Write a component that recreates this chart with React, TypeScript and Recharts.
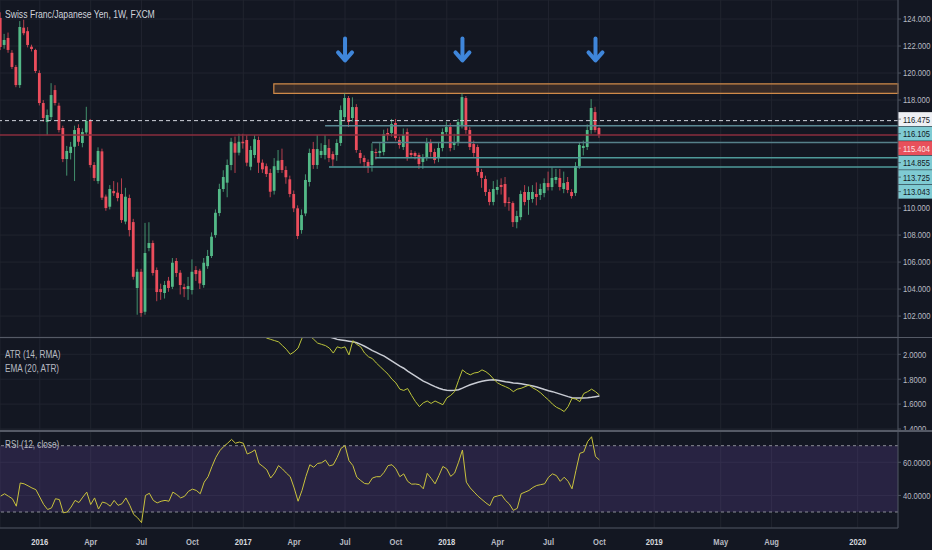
import {
  Bar,
  CartesianGrid,
  ComposedChart,
  Line,
  ReferenceArea,
  ReferenceDot,
  ReferenceLine,
  XAxis,
  YAxis,
} from 'recharts';

// weekly CHF/JPY candles, index 0 = first visible week (late Oct 2015)
const OPEN = [
  124.08, 122.08, 122.6, 121.5, 120.45, 119.11, 123.36, 123.1, 121.95, 121.71,
  120.0, 117.78, 116.37, 116.74, 118.74, 117.58, 115.93, 113.63, 114.08, 114.54,
  115.93, 114.82, 115.6, 116.45, 113.19, 112.0, 114.2, 110.85, 110.1, 111.26,
  111.14, 111.04, 109.0, 110.74, 108.96, 104.08, 105.28, 102.32, 107.04, 107.41,
  105.41, 104.0, 103.71, 104.62, 104.17, 106.08, 105.21, 104.15, 104.0, 103.93,
  105.41, 105.36, 104.3, 105.7, 106.45, 108.0, 109.63, 111.41, 111.88, 113.19,
  114.8, 114.1, 114.91, 115.04, 113.06, 113.93, 115.04, 113.36, 113.1, 112.6,
  111.28, 112.82, 113.56, 112.82, 112.13, 111.04, 109.98, 108.37, 109.6, 111.93,
  114.37, 113.19, 113.93, 113.93, 114.45, 114.0, 113.93, 114.82, 116.74, 118.15,
  116.67, 117.48, 114.08, 113.71, 113.41, 113.19, 114.15, 114.08, 114.15, 115.56,
  115.56, 116.3, 115.04, 114.52, 115.63, 114.08, 114.08, 113.93, 113.41, 113.78,
  114.89, 114.15, 113.71, 114.45, 115.63, 116.0, 114.67, 114.89, 116.15, 118.15,
  115.78, 114.74, 114.52, 112.67, 112.15, 111.19, 110.45, 111.34, 111.71, 111.78,
  110.45, 110.37, 108.96, 109.33, 111.19, 110.6, 110.67, 111.04, 110.97, 111.11,
  111.85, 111.56, 112.08, 112.23, 111.41, 111.93, 111.19, 111.11, 113.11, 114.45,
  114.52, 115.78, 117.11, 115.93,
];
const HIGH = [
  124.5, 122.9, 123.0, 121.7, 120.6, 123.85, 123.95, 123.4, 122.1, 121.8,
  120.2, 118.0, 117.3, 119.25, 119.1, 117.8, 116.1, 114.6, 114.9, 116.1,
  116.2, 115.9, 117.5, 116.6, 113.4, 114.5, 114.4, 111.0, 111.7, 112.0,
  111.9, 112.2, 111.5, 111.0, 109.2, 105.5, 105.5, 108.9, 108.95, 107.6,
  105.6, 104.4, 104.6, 104.9, 106.3, 106.3, 105.4, 104.4, 104.9, 106.2,
  105.7, 105.5, 106.3, 106.9, 108.2, 109.9, 111.8, 112.8, 113.6, 115.2,
  115.3, 115.5, 115.5, 115.4, 114.6, 115.4, 115.3, 113.6, 113.3, 112.9,
  113.7, 114.3, 114.4, 113.1, 112.4, 111.3, 110.2, 109.9, 112.5, 114.4,
  114.9, 115.4, 114.8, 115.4, 115.1, 114.2, 115.1, 117.6, 118.5, 118.3,
  118.2, 117.7, 114.3, 113.9, 113.6, 114.8, 114.4, 114.9, 115.8, 115.9,
  116.6, 116.6, 115.3, 115.9, 115.9, 114.3, 114.2, 114.1, 114.0, 115.2,
  115.1, 114.4, 114.9, 115.9, 116.4, 116.3, 115.5, 116.6, 118.5, 118.3,
  116.0, 115.0, 114.7, 112.9, 112.4, 111.4, 112.0, 112.1, 112.2, 112.3,
  110.8, 110.5, 109.8, 111.3, 111.7, 111.6, 111.7, 111.9, 111.8, 112.2,
  112.7, 113.0, 112.9, 112.9, 112.7, 112.3, 111.4, 113.4, 114.9, 115.0,
  116.2, 118.07, 117.5, 116.0,
];
const LOW = [
  121.7, 121.8, 121.5, 120.3, 118.95, 118.9, 122.8, 121.9, 121.6, 120.0,
  117.6, 116.4, 115.4, 116.5, 117.6, 115.6, 113.4, 112.4, 113.6, 112.0,
  114.6, 114.5, 115.4, 113.0, 112.0, 111.8, 110.6, 109.8, 109.9, 110.9,
  110.5, 108.9, 108.8, 107.9, 104.7, 102.1, 101.95, 102.1, 106.8, 105.0,
  103.1, 103.2, 103.3, 103.8, 104.0, 104.9, 103.6, 103.4, 103.2, 103.6,
  104.6, 104.0, 104.1, 105.5, 106.3, 107.8, 109.4, 111.2, 110.8, 112.8,
  112.6, 113.9, 114.4, 113.1, 112.8, 113.7, 112.6, 112.6, 112.3, 110.8,
  111.0, 112.6, 112.6, 111.8, 110.8, 109.7, 107.7, 108.1, 109.4, 111.6,
  112.9, 112.9, 113.7, 113.6, 113.4, 113.1, 113.5, 114.6, 116.5, 116.0,
  116.4, 114.1, 113.3, 113.0, 112.6, 112.7, 113.6, 113.8, 113.9, 115.0,
  115.3, 115.0, 114.4, 114.3, 113.5, 113.7, 113.6, 112.9, 112.9, 113.5,
  113.8, 113.3, 113.4, 114.2, 115.4, 114.2, 114.3, 114.6, 115.9, 115.5,
  114.3, 113.8, 112.4, 111.5, 110.9, 110.2, 110.2, 111.0, 111.0, 110.1,
  109.8, 108.6, 108.5, 109.1, 110.2, 109.5, 110.4, 110.2, 110.6, 110.8,
  111.3, 111.3, 111.8, 111.3, 111.1, 111.1, 110.7, 110.9, 112.9, 113.9,
  114.3, 115.5, 115.6, 115.2,
];
const CLOSE = [
  121.93, 122.45, 121.71, 120.45, 119.11, 123.41, 122.95, 122.08, 121.78, 120.15,
  117.78, 116.67, 116.89, 118.37, 117.78, 115.78, 113.63, 114.23, 114.54, 115.78,
  114.91, 115.63, 116.45, 113.19, 112.23, 114.23, 110.77, 110.0, 111.41, 111.1,
  110.74, 109.11, 110.84, 108.37, 104.91, 105.28, 102.23, 106.67, 107.41, 105.19,
  103.78, 103.78, 104.3, 104.08, 105.95, 105.19, 104.3, 104.0, 104.22, 105.28,
  105.11, 104.42, 105.95, 106.45, 107.88, 109.65, 111.41, 112.3, 113.19, 114.91,
  114.1, 114.91, 114.8, 113.36, 114.3, 115.1, 113.36, 112.87, 112.52, 111.21,
  113.1, 113.51, 112.82, 112.28, 111.04, 109.98, 107.93, 109.48, 112.08, 114.08,
  113.19, 114.37, 114.23, 114.67, 113.71, 113.6, 114.82, 117.26, 118.15, 116.37,
  117.48, 114.3, 113.71, 113.41, 113.04, 114.23, 114.08, 114.23, 115.48, 115.41,
  116.22, 115.19, 114.67, 115.41, 113.78, 113.93, 113.86, 113.26, 113.71, 114.89,
  114.15, 113.56, 114.45, 115.63, 116.0, 114.45, 114.89, 116.37, 118.22, 115.78,
  114.52, 114.08, 112.67, 112.23, 111.19, 110.45, 111.41, 111.56, 111.56, 110.37,
  110.37, 108.96, 109.41, 111.04, 110.45, 111.19, 111.19, 110.82, 111.41, 111.85,
  111.56, 112.23, 112.3, 111.56, 111.85, 111.34, 110.89, 113.11, 114.67, 114.6,
  115.78, 117.41, 115.78, 115.404,
];

const RSI = [
  39.6, 41, 39.5, 38, 33.5, 47.5, 47, 45.8, 44.5, 43.5,
  39, 34.5, 31.5, 32.5, 38, 37.5, 29.5, 30, 33, 37,
  35.7, 39, 42, 34.5, 38.5, 31.8, 36, 35.3, 33.5, 37,
  34, 35, 38.5, 34, 28.5, 26.5, 23.6, 40, 41.3, 37,
  35.5, 36.5, 37, 36.5, 42, 40.5, 38.5, 39.5, 42.5, 43.8,
  43, 41, 48, 51.3, 57.5, 63, 67, 69.5, 71.5, 73.8,
  71.5, 72.2, 71.5, 65, 66, 67.5, 59.3, 57.5, 55.5, 50.5,
  53.5, 58, 56, 53.5, 51.3, 44.5, 36.5, 43, 51.5, 58.5,
  57, 59.3, 59.7, 61.3, 57.8, 58.5, 63, 68.5, 70, 61,
  58, 51, 49, 47.2, 46.9, 50.5, 51.3, 51.3, 54, 58,
  58.5, 56, 51.3, 53, 48.5, 46.8, 46.9, 46.5, 44, 53.3,
  50.3, 47, 52, 57.5, 56, 51.5, 53.5, 60, 67.4, 48,
  44.5, 42, 39.5, 37.5, 35.5, 33.8, 39, 39.7, 40.3, 37,
  34.8, 31, 32.2, 41, 42, 43, 44.8, 46, 46.5, 47,
  51, 53, 52, 48.5, 51, 48.5, 44, 55, 65.4, 66.2,
  72.5, 75.4, 63.5, 61.4,
];

const ATR_START = 64;
const ATR = [
  2.3, 2.24, 2.19, 2.16, 2.13, 2.12, 2.11, 2.1, 2.07, 2.04,
  2.0, 2.02, 2.05, 2.13, 2.16, 2.15, 2.12, 2.09, 2.08, 2.07,
  2.05, 2.01, 2.06, 2.05, 2.06, 1.995, 2.11, 2.08, 2.06, 2.01,
  1.98, 1.965, 1.93, 1.9, 1.87, 1.84, 1.8, 1.77, 1.72, 1.71,
  1.725, 1.67, 1.62, 1.58, 1.61, 1.625, 1.605, 1.625, 1.61, 1.595,
  1.65, 1.67, 1.7, 1.79, 1.875, 1.85, 1.835, 1.85, 1.855, 1.875,
  1.86, 1.835, 1.8, 1.77, 1.753, 1.74, 1.725, 1.7, 1.72, 1.727,
  1.74, 1.753, 1.73, 1.713, 1.69, 1.66, 1.633, 1.6, 1.575, 1.56,
  1.54, 1.58, 1.647, 1.64, 1.62, 1.685, 1.7, 1.72, 1.7, 1.673,
];
const EMA_START = 82;
const EMA = [
  2.16, 2.15, 2.14, 2.13, 2.12, 2.115, 2.11, 2.105, 2.1, 2.093,
  2.08, 2.065, 2.048, 2.03, 2.015, 2.0, 1.985, 1.965, 1.945, 1.925,
  1.905, 1.888, 1.865, 1.845, 1.825, 1.805, 1.785, 1.77, 1.755, 1.74,
  1.727, 1.718, 1.712, 1.71, 1.711, 1.715, 1.728, 1.742, 1.755, 1.766,
  1.776, 1.784, 1.79, 1.794, 1.795, 1.792, 1.786, 1.78, 1.775, 1.77,
  1.767, 1.763, 1.758, 1.752, 1.745, 1.737, 1.727, 1.717, 1.708, 1.7,
  1.69, 1.68, 1.67, 1.66, 1.652, 1.65, 1.65, 1.65, 1.651, 1.655,
  1.66, 1.665,
];

// time axis: week index of the first bar of each labelled period
const X_TICKS = [10, 23, 36, 49, 62, 75, 88, 101, 114, 127, 140, 153, 167, 184, 197, 219];
const X_LABELS = ['2016', 'Apr', 'Jul', 'Oct', '2017', 'Apr', 'Jul', 'Oct', '2018', 'Apr', 'Jul', 'Oct', '2019', 'May', 'Aug', '2020'];

const PRICE_TICKS = [102, 104, 106, 108, 110, 118, 120, 122, 124];
const ATR_TICKS = [1.4, 1.6, 1.8, 2.0];
const RSI_TICKS = [40, 60];

// drawn levels (price, week where the line starts; null = full width)
const LEVELS = [116.475, 116.105, 115.404, 114.855, 113.725, 113.043];
const LEVEL_FROM = [null, 82.9, null, 94.9, 95.7, 83.9];
const RESIST_LOW = 118.5;
const RESIST_HIGH = 119.2;
const RESIST_FROM = 69.8;
const ARROW_WEEKS = [88, 118, 152];
const ARROW_PRICE = 121.75;

// layout
const W = 932;
const AXIS_W = 34;
const MAIN_H = 337;
const ATR_H = 92;
const RSI_H = 119;
const X_DOMAIN: [number, number] = [-0.17, 229.3];
const P_DOMAIN: [number, number] = [100.45, 125.41];
const A_DOMAIN: [number, number] = [1.392, 2.131];
const R_DOMAIN: [number, number] = [20.35, 78.87];

const BG = '#131722';
const GRID = '#20242f';
const AXIS = '#4c525e';
const TEXT = '#b8bbc3';
const UP = '#53b987';
const DOWN = '#eb4d5c';
const FONT = '"Liberation Sans", Arial, sans-serif';
const SQUEEZE = 0.8;

const LEVEL_STYLE = [
  { stroke: '#d1d4dc', dash: '4 3', width: 1, bg: '#eef0f4', fg: '#131722' },
  { stroke: '#5a8893', dash: undefined, width: 1.5, bg: '#7fcbd3', fg: '#131722' },
  { stroke: '#8a2e3e', dash: undefined, width: 1.5, bg: '#e8505b', fg: '#fbe3e6' },
  { stroke: '#56808a', dash: undefined, width: 1.5, bg: '#7fcbd3', fg: '#131722' },
  { stroke: '#4f9a9a', dash: undefined, width: 1.5, bg: '#7fcbd3', fg: '#131722' },
  { stroke: '#4f9a9a', dash: undefined, width: 1.5, bg: '#7fcbd3', fg: '#131722' },
];

const candles = OPEN.map((o, i) => ({ i, o, h: HIGH[i], l: LOW[i], c: CLOSE[i] }));
const rsiRows = RSI.map((rsi, i) => ({ i, rsi }));
const atrRows = ATR.map((atr, k) => {
  const i = ATR_START + k;
  const e = i - EMA_START;
  return { i, atr, ema: e >= 0 ? EMA[e] : null };
});

function Candle(props: any) {
  const { x, y, width, height, payload } = props;
  if (!payload || height == null || isNaN(y)) return null;
  const top = Math.min(y, y + height);
  const span = Math.abs(height);
  const ppu = span / (payload.h - payload.l || 1);
  const color = payload.c >= payload.o ? UP : DOWN;
  const cx = x + width / 2;
  const bTop = top + (payload.h - Math.max(payload.o, payload.c)) * ppu;
  const bH = Math.max(1, Math.abs(payload.o - payload.c) * ppu);
  return (
    <g>
      <line x1={cx} x2={cx} y1={top} y2={top + span} stroke={color} strokeOpacity={0.75} strokeWidth={1} />
      <rect x={cx - 1.4} y={bTop} width={2.8} height={bH} fill={color} />
    </g>
  );
}

function Arrow(props: any) {
  const { cx, cy } = props;
  return (
    <g stroke="#3f86da" strokeWidth={4} fill="none" strokeLinecap="round" strokeLinejoin="round">
      <line x1={cx} y1={cy - 11} x2={cx} y2={cy + 10} />
      <polyline points={`${cx - 7},${cy + 3} ${cx},${cy + 11} ${cx + 7},${cy + 3}`} />
    </g>
  );
}

// narrow text: the reference uses a condensed UI font
function Narrow({ x, y, children, ...rest }: any) {
  return (
    <g transform={`translate(${x},${y}) scale(${SQUEEZE},1)`}>
      <text x={0} y={0} fontFamily={FONT} {...rest}>{children}</text>
    </g>
  );
}

// price badges on the right scale, stacked like the platform does
function Badges(props: any) {
  const vb = props.viewBox;
  if (!vb) return null;
  const ppu = MAIN_H / (P_DOMAIN[1] - P_DOMAIN[0]);
  const right = vb.x + vb.width;
  let prev = -Infinity;
  return (
    <g>
      {LEVELS.map((v, k) => {
        const ly = vb.y + (LEVELS[0] - v) * ppu;
        const c = k === 0 ? ly - 1.5 : Math.max(ly, prev + 14.5);
        prev = c;
        const s = LEVEL_STYLE[k];
        return (
          <g key={v}>
            <rect x={right} y={c - 7} width={AXIS_W} height={14} fill={s.bg} />
            <line x1={right} x2={right + 3} y1={c} y2={c} stroke={s.fg} strokeOpacity={0.5} />
            <Narrow x={right + 5} y={c + 3.4} fontSize={9.5} fill={s.fg}>{v.toFixed(3)}</Narrow>
          </g>
        );
      })}
    </g>
  );
}

function YTick(props: any) {
  const { x, y, payload, digits } = props;
  return (
    <Narrow x={x} y={y + 3.3} fontSize={9.5} fill={TEXT}>{Number(payload.value).toFixed(digits)}</Narrow>
  );
}

function XTick(props: any) {
  const { x, y, payload } = props;
  const label = X_LABELS[X_TICKS.indexOf(payload.value)];
  const year = /^\d{4}$/.test(label || '');
  return (
    <Narrow x={x} y={y + 9} textAnchor="middle" fontSize={9.5} fontWeight={700} fill={year ? '#d6d8de' : TEXT}>
      {label}
    </Narrow>
  );
}

const label = { position: 'absolute' as const, transform: `scaleX(${SQUEEZE + 0.02})`, transformOrigin: 'left top', whiteSpace: 'nowrap' as const };

export default function App() {
  return (
    <div style={{ position: 'absolute', left: 0, top: 0, width: W, height: 550, background: BG, overflow: 'hidden', fontFamily: FONT }}>
      <div style={{ position: 'absolute', left: 0, top: 0 }}>
        <ComposedChart width={W} height={MAIN_H} data={candles} margin={{ top: 0, right: 0, bottom: 0, left: 0 }}>
          <CartesianGrid stroke={GRID} />
          <XAxis type="number" dataKey="i" domain={X_DOMAIN} ticks={X_TICKS} allowDataOverflow hide />
          <YAxis orientation="right" width={AXIS_W} domain={P_DOMAIN} ticks={PRICE_TICKS} allowDataOverflow
            interval={0} tick={<YTick digits={3} />} tickSize={3} tickLine={{ stroke: AXIS }} axisLine={{ stroke: AXIS }} />
          <ReferenceArea x1={RESIST_FROM} x2={X_DOMAIN[1]} y1={RESIST_LOW} y2={RESIST_HIGH}
            fill="#b8743a" fillOpacity={0.22} stroke="#cf8a49" strokeWidth={1.2} />
          {LEVELS.map((v, k) => {
            const s = LEVEL_STYLE[k];
            const from = LEVEL_FROM[k];
            return from == null ? (
              <ReferenceLine key={v} y={v} stroke={s.stroke} strokeWidth={s.width} strokeDasharray={s.dash}
                label={k === 0 ? Badges : undefined} />
            ) : (
              <ReferenceLine key={v} segment={[{ x: from, y: v }, { x: X_DOMAIN[1], y: v }]}
                stroke={s.stroke} strokeWidth={s.width} />
            );
          })}
          <Bar dataKey={(d: any) => [d.l, d.h]} barSize={3} shape={Candle} isAnimationActive={false} />
          {ARROW_WEEKS.map((w) => (
            <ReferenceDot key={w} x={w} y={ARROW_PRICE} shape={Arrow} />
          ))}
        </ComposedChart>
      </div>

      <div style={{ position: 'absolute', left: 0, top: MAIN_H, width: W, height: 1.5, background: '#555a66' }} />

      <div style={{ position: 'absolute', left: 0, top: MAIN_H + 1, background: BG }}>
        <ComposedChart width={W} height={ATR_H} data={atrRows} margin={{ top: 0, right: 0, bottom: 0, left: 0 }}>
          <CartesianGrid stroke={GRID} />
          <XAxis type="number" dataKey="i" domain={X_DOMAIN} ticks={X_TICKS} allowDataOverflow hide />
          <YAxis orientation="right" width={AXIS_W} domain={A_DOMAIN} ticks={ATR_TICKS} allowDataOverflow
            interval={0} tick={<YTick digits={4} />} tickSize={3} tickLine={{ stroke: AXIS }} axisLine={{ stroke: AXIS }} />
          <Line dataKey="ema" stroke="#c9ccd4" strokeWidth={1.5} dot={false} isAnimationActive={false} />
          <Line dataKey="atr" stroke="#bcc43a" strokeWidth={1} dot={false} isAnimationActive={false} />
        </ComposedChart>
      </div>

      <div style={{ position: 'absolute', left: 0, top: MAIN_H + 1 + ATR_H, width: W, height: 1.5, background: '#555a66', zIndex: 2 }} />

      <div style={{ position: 'absolute', left: 0, top: MAIN_H + 2 + ATR_H, background: BG }}>
        <ComposedChart width={W} height={RSI_H} data={rsiRows} margin={{ top: 0, right: 0, bottom: 0, left: 0 }}>
          <CartesianGrid stroke={GRID} />
          <XAxis type="number" dataKey="i" domain={X_DOMAIN} ticks={X_TICKS} allowDataOverflow height={22}
            interval={0} tick={<XTick />} tickLine={false} axisLine={{ stroke: AXIS }} />
          <YAxis orientation="right" width={AXIS_W} domain={R_DOMAIN} ticks={RSI_TICKS} allowDataOverflow
            interval={0} tick={<YTick digits={4} />} tickSize={3} tickLine={{ stroke: AXIS }} axisLine={{ stroke: AXIS }} />
          <ReferenceArea y1={30} y2={70} fill="#7e57c2" fillOpacity={0.2} stroke="none" />
          <ReferenceLine y={70} stroke="#8a8d96" strokeDasharray="3 3" />
          <ReferenceLine y={30} stroke="#8a8d96" strokeDasharray="3 3" />
          <Line dataKey="rsi" stroke="#c9c23d" strokeWidth={1} dot={false} isAnimationActive={false} />
        </ComposedChart>
      </div>

      <div style={{ ...label, left: 5, top: 8, fontSize: 10.5, color: '#d1d4dc' }}>
        Swiss Franc/Japanese Yen, 1W, FXCM
      </div>
      <div style={{ ...label, left: 5, top: 348, fontSize: 10, color: TEXT, lineHeight: '14px' }}>
        <div>ATR (14, RMA)</div>
        <div>EMA (20, ATR)</div>
      </div>
      <div style={{ ...label, left: 5, top: 439, fontSize: 10, color: TEXT, lineHeight: '12px' }}>
        RSI (12, close)
      </div>
    </div>
  );
}
